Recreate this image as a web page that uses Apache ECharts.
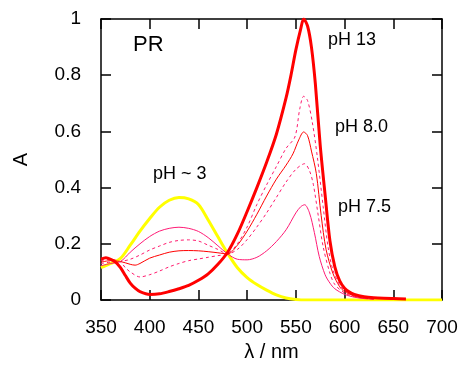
<!DOCTYPE html>
<html>
<head>
<meta charset="utf-8">
<script src="https://cdn.jsdelivr.net/npm/echarts@6/dist/echarts.min.js"></script>
<style>
  html, body { margin: 0; padding: 0; background: #fff; }
  #chart { width: 469px; height: 375px; }
</style>
</head>
<body>
<div id="chart"></div>
<script>
// pH ~ 3 (yellow)
var wlAcid = [350, 360, 370, 380, 390, 400, 410, 420, 430, 440, 450, 460, 470, 480, 490, 500, 510, 520, 530, 540, 550, 560, 600, 650, 700]
var aAcid = [0.115, 0.13, 0.148, 0.195, 0.245, 0.29, 0.33, 0.355, 0.365, 0.36, 0.34, 0.285, 0.225, 0.166, 0.115, 0.08, 0.055, 0.035, 0.018, 0.007, 0.002, 0, 0, 0, 0]

// pH 13 (thick red)
var wlBase = [350, 355, 360, 365, 370, 375, 380, 385, 390, 400, 410, 420, 430, 440, 450, 460, 470, 480, 490, 500, 510, 520, 530, 540, 545, 550, 555, 558, 562, 566, 570, 575, 580, 585, 590, 595, 600, 605, 610, 620, 630, 640, 650, 663]
var aBase = [0.145, 0.15, 0.145, 0.135, 0.115, 0.087, 0.06, 0.042, 0.03, 0.02, 0.022, 0.03, 0.04, 0.052, 0.07, 0.093, 0.127, 0.17, 0.235, 0.315, 0.4, 0.49, 0.59, 0.72, 0.8, 0.89, 0.965, 1.0, 0.975, 0.9, 0.77, 0.55, 0.375, 0.21, 0.118, 0.068, 0.042, 0.028, 0.02, 0.012, 0.008, 0.006, 0.005, 0.004]

// pH 7.5 (thin pink)
var wl75 = [350, 360, 370, 380, 390, 400, 410, 420, 430, 440, 450, 460, 470, 480, 490, 500, 510, 520, 530, 540, 550, 555, 559, 564, 569, 574, 580, 585, 590, 600, 610, 620, 630]
var a75 = [0.122, 0.13, 0.137, 0.17, 0.2, 0.226, 0.245, 0.255, 0.259, 0.255, 0.244, 0.222, 0.193, 0.164, 0.145, 0.143, 0.152, 0.175, 0.208, 0.25, 0.31, 0.332, 0.339, 0.31, 0.24, 0.155, 0.09, 0.06, 0.04, 0.02, 0.01, 0.005, 0.003]

// between 7.5 and 8.0 (dashed)
var wl78 = [350, 360, 370, 380, 390, 400, 410, 420, 430, 440, 450, 460, 470, 480, 490, 500, 510, 520, 530, 540, 550, 559, 564, 568, 573, 578, 585, 590, 600, 610, 620, 630]
var a78 = [0.13, 0.135, 0.137, 0.145, 0.16, 0.178, 0.192, 0.205, 0.212, 0.214, 0.21, 0.195, 0.18, 0.164, 0.18, 0.215, 0.26, 0.31, 0.365, 0.42, 0.465, 0.485, 0.46, 0.41, 0.3, 0.19, 0.095, 0.055, 0.025, 0.012, 0.006, 0.003]

// pH 8.0 (thin red)
var wl80 = [350, 360, 370, 380, 385, 390, 400, 410, 420, 430, 440, 450, 460, 470, 480, 490, 500, 510, 520, 530, 540, 547, 553, 558, 562, 566, 571, 576, 581, 588, 595, 600, 610, 620, 630]
var a80 = [0.135, 0.14, 0.137, 0.127, 0.124, 0.13, 0.149, 0.16, 0.17, 0.175, 0.176, 0.175, 0.172, 0.168, 0.164, 0.195, 0.245, 0.305, 0.37, 0.43, 0.48, 0.52, 0.57, 0.598, 0.585, 0.53, 0.45, 0.3, 0.18, 0.095, 0.047, 0.03, 0.014, 0.007, 0.004]

// above 8.0 (dashed)
var wl85 = [350, 360, 370, 375, 380, 390, 400, 410, 420, 430, 440, 450, 460, 470, 480, 490, 500, 510, 520, 530, 540, 549, 554, 558, 562, 567, 572, 578, 583, 588, 595, 600, 610, 620, 630]
var a85 = [0.14, 0.145, 0.135, 0.115, 0.1, 0.082, 0.09, 0.103, 0.118, 0.13, 0.14, 0.146, 0.152, 0.158, 0.164, 0.2, 0.26, 0.34, 0.41, 0.475, 0.54, 0.58, 0.68, 0.725, 0.71, 0.63, 0.51, 0.333, 0.19, 0.107, 0.053, 0.035, 0.016, 0.008, 0.004]

function pairs(xs, ys) {
  var out = []
  for (var i = 0; i < xs.length; i++) out.push([xs[i], ys[i]])
  return out
}

var font = 'Liberation Sans, Arial, sans-serif'
var chart = echarts.init(document.getElementById('chart'))

function line(data, color, width, dash) {
  return {
    type: 'line',
    data: data,
    showSymbol: false,
    smooth: 0.3,
    animation: false,
    lineStyle: { color: color, width: width, type: dash ? [3, 3] : 'solid' }
  }
}

var tickOpts = { show: true, inside: true, length: 10, lineStyle: { color: '#000', width: 1.5 } }
var lineOpts = { show: true, onZero: false, lineStyle: { color: '#000', width: 1.5 } }

option = {
  backgroundColor: '#fff',
  grid: { left: 101, right: 27, top: 19, bottom: 75 },
  xAxis: [
    {
      type: 'value', min: 350, max: 700, interval: 50,
      name: 'λ / nm', nameLocation: 'middle', nameGap: 42,
      nameTextStyle: { fontFamily: font, fontSize: 20, color: '#000' },
      axisLine: lineOpts, axisTick: tickOpts, splitLine: { show: false },
      axisLabel: { fontFamily: font, fontSize: 19, color: '#000', margin: 18 }
    },
    {
      type: 'value', min: 350, max: 700, interval: 50, position: 'top',
      axisLine: lineOpts, axisTick: tickOpts, splitLine: { show: false },
      axisLabel: { show: false }
    }
  ],
  yAxis: [
    {
      type: 'value', min: 0, max: 1, interval: 0.2,
      name: 'A', nameLocation: 'middle', nameGap: 70, nameRotate: 90,
      nameTextStyle: { fontFamily: font, fontSize: 20, color: '#000' },
      axisLine: lineOpts, axisTick: tickOpts, splitLine: { show: false },
      axisLabel: { fontFamily: font, fontSize: 19, color: '#000', margin: 20 }
    },
    {
      type: 'value', min: 0, max: 1, interval: 0.2, position: 'right',
      axisLine: lineOpts, axisTick: tickOpts, splitLine: { show: false },
      axisLabel: { show: false }
    }
  ],
  series: [
    line(pairs(wlAcid, aAcid), '#ffff00', 3, false),
    line(pairs(wl75, a75), '#ff1a75', 1, false),
    line(pairs(wl78, a78), '#ff1a6e', 1, true),
    line(pairs(wl80, a80), '#ff0000', 1, false),
    line(pairs(wl85, a85), '#ff1a6e', 1, true),
    line(pairs(wlBase, aBase), '#ff0000', 3, false)
  ],
  graphic: [
    { type: 'text', left: 133, top: 34, style: { text: 'PR', font: '22px ' + font, fill: '#000' } },
    { type: 'text', left: 328, top: 31, style: { text: 'pH 13', font: '18px ' + font, fill: '#000' } },
    { type: 'text', left: 335, top: 118, style: { text: 'pH 8.0', font: '18px ' + font, fill: '#000' } },
    { type: 'text', left: 153, top: 165, style: { text: 'pH ~ 3', font: '18px ' + font, fill: '#000' } },
    { type: 'text', left: 338, top: 198, style: { text: 'pH 7.5', font: '18px ' + font, fill: '#000' } }
  ]
}

chart.setOption(option)
</script>
</body>
</html>
